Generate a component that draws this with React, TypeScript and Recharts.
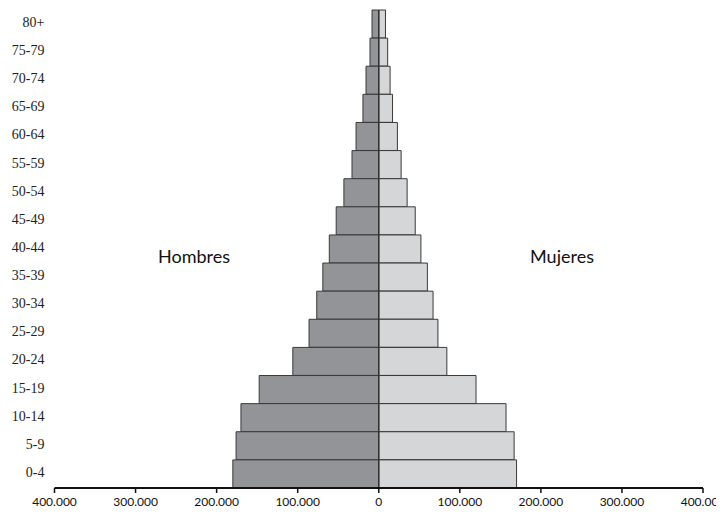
import React from 'react';
import { BarChart, Bar, XAxis, YAxis, ReferenceLine } from 'recharts';

const ageGroups = ['80+', '75-79', '70-74', '65-69', '60-64', '55-59', '50-54', '45-49', '40-44', '35-39', '30-34', '25-29', '20-24', '15-19', '10-14', '5-9', '0-4'];
const hombres = [8300, 10800, 15700, 19500, 28000, 33000, 43000, 52500, 61000, 69000, 76500, 86000, 106000, 147500, 170000, 176000, 180000];
const mujeres = [8300, 11000, 14000, 17000, 23000, 27600, 35000, 45000, 52000, 60000, 67000, 73000, 84000, 120000, 157000, 167000, 170000];
const xTicks = [-400000, -300000, -200000, -100000, 0, 100000, 200000, 300000, 400000];

const data = ageGroups.map((g, i) => ({ grupo: g, hombres: -hombres[i], mujeres: mujeres[i] }));

const fmt = (v: number) => {
  const a = Math.abs(v);
  return a === 0 ? '0' : a.toLocaleString('de-DE');
};

const labelStyle: React.CSSProperties = {
  position: 'absolute',
  fontFamily: 'Lato, sans-serif',
  fontSize: 18,
  color: '#111',
  transform: 'translateX(-50%)',
};

const App = () => {
  return (
    <div style={{ position: 'relative', width: 724, height: 517, margin: -8, background: '#fff' }}>
      <BarChart
        width={724}
        height={517}
        data={data}
        layout="vertical"
        stackOffset="sign"
        barCategoryGap={0}
        margin={{ top: 10, right: 21, left: 0, bottom: 4 }}
      >
        <XAxis
          type="number"
          domain={[-400000, 400000]}
          ticks={xTicks}
          tickFormatter={fmt}
          height={25}
          axisLine={{ stroke: '#111', strokeWidth: 2 }}
          tickLine={{ stroke: '#111', strokeWidth: 1.5 }}
          tickSize={5}
          tickMargin={4}
          tick={{ fill: '#111', fontSize: 12, fontFamily: 'Lato, sans-serif' }}
        />
        <YAxis
          type="category"
          dataKey="grupo"
          width={54.5}
          axisLine={false}
          tickLine={false}
          tickSize={6}
          tickMargin={4}
          tick={{ fill: '#222', fontSize: 14, fontFamily: '"Liberation Serif", serif', dy: -2 }}
        />
        <Bar dataKey="hombres" stackId="a" fill="#939498" stroke="#3a3a3a" strokeWidth={1} isAnimationActive={false} />
        <Bar dataKey="mujeres" stackId="a" fill="#d5d6d8" stroke="#3a3a3a" strokeWidth={1} isAnimationActive={false} />
        <ReferenceLine x={0} stroke="#333" strokeWidth={1.5} />
      </BarChart>
      <div style={{ ...labelStyle, left: 194, top: 245 }}>Hombres</div>
      <div style={{ ...labelStyle, left: 562, top: 245 }}>Mujeres</div>
    </div>
  );
};

export default App;
